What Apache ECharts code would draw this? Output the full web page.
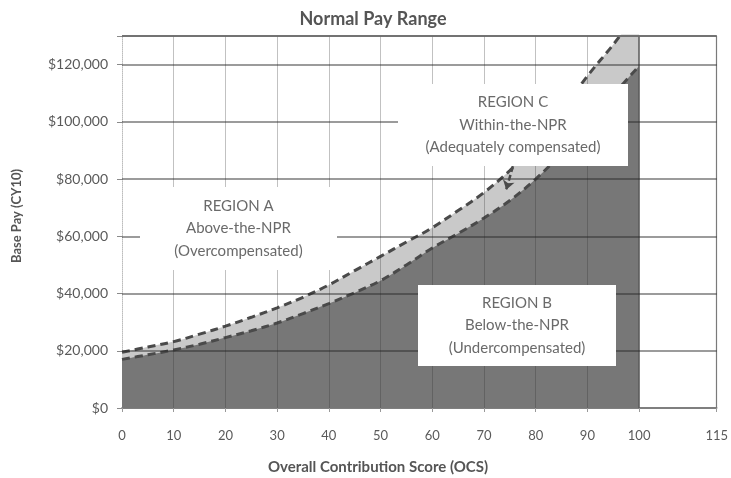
<!DOCTYPE html>
<html><head><meta charset="utf-8">
<script src="https://cdn.jsdelivr.net/npm/echarts@6/dist/echarts.min.js"></script>
<style>html,body{margin:0;padding:0;background:#fff}#c{width:731px;height:478px}</style>
</head><body><div id="c"></div>
<script>
// Overall Contribution Score sample points
const ocs = [0,5,10,15,20,25,30,35,40,45,50,55,60,65,70,75,80,85,90,95,100];
// Upper boundary of the Normal Pay Range
const upperNPR = [19500,21300,23200,25800,28600,31700,35000,38700,43000,48000,53000,58000,63000,69000,75300,83000,92500,103500,116000,127000,139000];
// Lower boundary of the Normal Pay Range
const lowerNPR = [17000,18600,20300,22300,24600,27000,29700,33000,36500,40300,44500,50000,55900,61000,66400,72500,80000,89000,99000,109500,119500];
const xTickValues = [0,10,20,30,40,50,60,70,80,90,100,115];
const xGridValues = [10,20,30,40,50,60,70,80,90];
const yGridValues = [20000,40000,60000,80000,100000,120000];
const yTop = 130000, xRight = 115;
const arrowC = [[75.6,84500],[74.3,76300]];

const font = 'Lato, "Open Sans", sans-serif';
const chart = echarts.init(document.getElementById('c'));
const toPts = arr => ocs.map((x,i)=>[x, arr[i]]);

function regionBox(id, x, y, w, h, lines){
  return {
    type:'group', id:id, z:100,
    children:[
      {type:'rect', z:100, shape:{x:x, y:y, width:w, height:h}, style:{fill:'#ffffff'}},
      {type:'text', z:101, x:x+w/2, y:y+h/2, style:{text:lines.join('\n'), fill:'#6a6a6a', font:'15px '+font, textAlign:'center', textVerticalAlign:'middle', lineHeight:22.5}}
    ]
  };
}

chart.setOption({
  animation:false,
  backgroundColor:'#ffffff',
  title:{text:'Normal Pay Range', left:368, top:5, textAlign:'center',
    textStyle:{fontFamily:font, fontWeight:'bold', fontSize:18, color:'#555555'}},
  grid:{left:122, right:13, top:36, bottom:70},
  xAxis:{type:'value', min:0, max:xRight,
    axisLine:{show:true, lineStyle:{color:'#555555', width:1.5}},
    axisTick:{show:true, customValues:xTickValues, length:4, lineStyle:{color:'#999999'}},
    axisLabel:{customValues:xTickValues, margin:21, fontFamily:font, fontSize:13, color:'#5a5a5a'},
    splitLine:{show:false}},
  yAxis:{type:'value', min:0, max:yTop, interval:20000,
    axisLine:{show:true, lineStyle:{color:'#bdbdbd', type:'dotted'}},
    axisTick:{show:true, length:5, lineStyle:{color:'#8a8a8a'}},
    axisLabel:{margin:14, fontFamily:font, fontSize:14, color:'#5a5a5a',
      formatter:v => v % 20000 === 0 ? '$' + v.toLocaleString('en-US') : ''},
    splitLine:{show:false}},
  graphic:[
    regionBox('boxA',140,187,197,83,['REGION A','Above-the-NPR','(Overcompensated)']),
    regionBox('boxC',398,84,230,82,['REGION C','Within-the-NPR','(Adequately compensated)']),
    regionBox('boxB',418,285,198,81,['REGION B','Below-the-NPR','(Undercompensated)']),
    {type:'text', id:'xName', z:50, x:378, y:467, style:{text:'Overall Contribution Score (OCS)', fill:'#555555', font:'bold 15px '+font, textAlign:'center', textVerticalAlign:'middle'}},
    {type:'text', id:'yName', z:50, x:17, y:216, rotation:Math.PI/2, style:{text:'Base Pay (CY10)', fill:'#555555', font:'bold 13px '+font, textAlign:'center', textVerticalAlign:'middle'}}
  ],
  series:[
    {type:'line', name:'Upper NPR', data:toPts(upperNPR), smooth:0.35, symbol:'none', clip:true,
      lineStyle:{color:'#4a4a4a', width:3, type:[8,5]},
      areaStyle:{color:'#c9c9c9', opacity:1}},
    {type:'line', name:'Lower NPR', data:toPts(lowerNPR), smooth:0.35, symbol:'none', clip:true,
      lineStyle:{color:'#4a4a4a', width:3, type:[8,5]},
      areaStyle:{color:'#777777', opacity:1}},
    {type:'line', name:'grid', data:[], symbol:'none', clip:false,
      markLine:{silent:true, symbol:'none', label:{show:false}, animation:false,
        data:[
          ...xGridValues.map(v=>({xAxis:v, lineStyle:{color:'rgba(50,50,50,0.3)', width:1, type:'solid'}})),
          {xAxis:100, lineStyle:{color:'#5a5a5a', width:1.5, type:'solid'}},
          {xAxis:xRight, lineStyle:{color:'#7a7a7a', width:1.2, type:'solid'}},
          ...yGridValues.map(v=>({yAxis:v, lineStyle:{color:'rgba(40,40,40,0.62)', width:1.5, type:'solid'}})),
          {yAxis:yTop, lineStyle:{color:'#6a6a6a', width:1.5, type:'solid'}}
        ]}},
    {type:'line', name:'topBorder', data:[[0,yTop],[xRight,yTop]], symbol:'none', clip:false, z:6,
      lineStyle:{color:'#6a6a6a', width:1.5, type:'solid'}},
    {type:'line', name:'arrow', data:[], symbol:'none',
      markLine:{silent:true, symbol:['none','arrow'], symbolSize:9, label:{show:false}, animation:false,
        lineStyle:{color:'#4a4a4a', width:2.5, type:[6,3]},
        data:[[{coord:arrowC[0]},{coord:arrowC[1]}]]}}
  ]
});
</script></body></html>
